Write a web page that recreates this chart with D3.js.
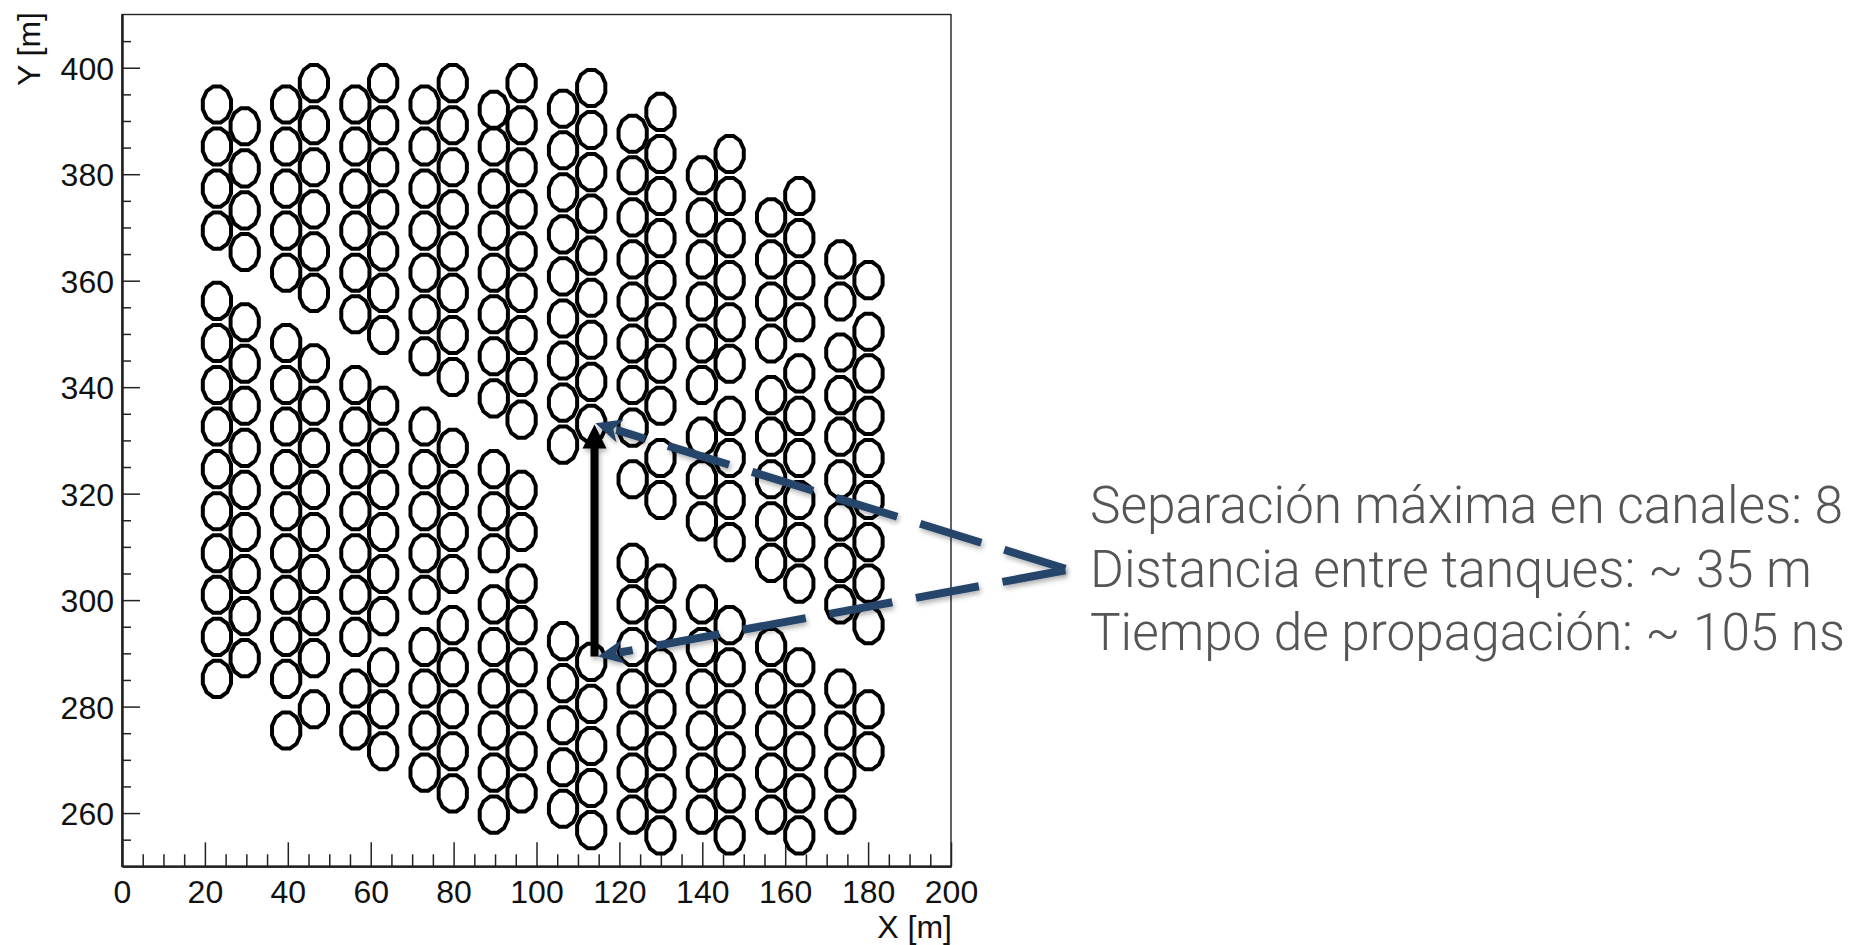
<!DOCTYPE html>
<html><head><meta charset="utf-8">
<script src="https://cdn.jsdelivr.net/npm/d3@7"></script>
<style>
html,body{margin:0;padding:0;background:#fff;overflow:hidden}
svg{display:block}
.tick text,.title{font-family:"Liberation Sans",Arial,sans-serif;font-size:32px;fill:#111}
.note{font-family:Roboto,sans-serif;font-weight:300;font-size:51px;fill:#555}
</style></head><body>
<script>
const colX=[22.9,29.6,39.6,46.3,56.3,63.0,73.0,79.8,89.7,96.4,106.4,113.2,123.2,129.9,139.9,146.6,156.6,163.4,173.3,180.1];
const colY=[
[393.1,385.2,377.3,369.4,356.2,348.3,340.4,332.6,324.6,316.7,308.8,301.0,293.1,285.2],
[389.0,381.1,373.2,365.4,352.2,344.4,336.5,328.6,320.7,312.8,304.9,297.0,289.1],
[393.1,385.2,377.3,369.4,361.5,348.3,340.4,332.6,324.6,316.7,308.8,301.0,293.1,285.2,275.5],
[397.1,389.2,381.3,373.4,365.5,357.7,344.5,336.5,328.6,320.7,312.8,304.9,297.0,289.1,279.5],
[393.1,385.2,377.3,369.4,361.5,353.7,340.4,332.6,324.6,316.7,308.8,301.0,293.1,283.4,275.5],
[397.1,389.2,381.3,373.4,365.5,357.7,349.8,336.5,328.6,320.7,312.8,304.9,297.0,287.4,279.5,271.6],
[393.1,385.2,377.3,369.4,361.5,353.7,345.8,332.6,324.6,316.7,308.8,301.0,291.2,283.4,275.5,267.6],
[397.1,389.2,381.3,373.4,365.5,357.7,349.8,341.9,328.6,320.7,312.8,304.9,295.3,287.4,279.5,271.6,263.7],
[392.1,385.2,377.3,369.4,361.5,353.7,345.8,337.9,324.6,316.7,308.8,299.2,291.2,283.4,275.5,267.6,259.7],
[397.1,389.2,381.3,373.4,365.5,357.7,349.8,341.9,333.9,320.7,312.8,303.1,295.3,287.4,279.5,271.6,263.7],
[392.3,384.5,376.6,368.7,360.8,352.9,345.0,337.1,329.2,292.3,284.4,276.5,268.6,260.8],
[396.2,388.3,380.4,372.6,364.7,356.8,348.9,341.0,333.1,288.4,280.5,272.6,264.7,256.8],
[387.6,379.8,371.9,364.0,356.1,348.2,340.4,332.4,322.7,307.0,299.2,291.2,283.4,275.5,267.6,259.7],
[391.7,383.8,375.9,368.0,360.1,352.2,344.4,336.5,326.7,318.8,303.1,295.3,287.4,279.5,271.6,263.7,255.8],
[379.8,371.9,364.0,356.1,348.2,340.4,330.7,322.7,314.8,299.2,291.2,283.4,275.5,267.6,259.7],
[383.8,375.9,368.0,360.1,352.2,344.4,334.6,326.7,318.8,310.9,295.3,287.4,279.5,271.6,263.7,255.8],
[371.9,364.0,356.1,348.2,338.5,330.7,322.7,314.8,307.0,291.2,283.4,275.5,267.6,259.7],
[375.9,368.0,360.1,352.2,342.6,334.6,326.7,318.8,310.9,303.1,287.4,279.5,271.6,263.7,255.8],
[364.0,356.1,346.5,338.5,330.7,322.7,314.8,307.0,299.2,283.4,275.5,267.6,259.7],
[360.1,350.4,342.6,334.6,326.7,318.8,310.9,303.1,295.3,279.5,271.6]
];
const xMajor=[0,20,40,60,80,100,120,140,160,180,200];
const yMajor=[260,280,300,320,340,360,380,400];
const xMinor=[5,10,15,25,30,35,45,50,55,65,70,75,85,90,95,105,110,115,125,130,135,145,150,155,165,170,175,185,190,195];
const yMinor=[255,265,270,275,285,290,295,305,310,315,325,330,335,345,350,355,365,370,375,385,390,395,405];
const xTitle="X [m]", yTitle="Y [m]";
const separation=[114,289.4,114,333.0];
const pointerA=[227.6,305.9,114.2,333.2];
const pointerB=[227.6,305.6,114.8,289.4];
const notes=["Separación máxima en canales: 8","Distancia entre tanques: ~ 35 m","Tiempo de propagación: ~ 105 ns"];

const W=1866,H=945;
const x=d3.scaleLinear().domain([0,200]).range([122,951]);
const y=d3.scaleLinear().domain([250,410]).range([866.3,14.5]);
const svg=d3.select("body").append("svg").attr("width",W).attr("height",H);

const defs=svg.append("defs");
const f=defs.append("filter").attr("id","sh").attr("x","-20%").attr("y","-20%").attr("width","140%").attr("height","140%");
f.append("feDropShadow").attr("dx",1.5).attr("dy",3).attr("stdDeviation",2.5).attr("flood-color","#000").attr("flood-opacity",.3);

svg.append("rect").attr("x",x(0)).attr("y",y(410)).attr("width",x(200)-x(0)).attr("height",y(250)-y(410))
  .attr("fill","none").attr("stroke","#222").attr("stroke-width",1.4);

function styleAxis(g){g.select(".domain").attr("stroke","#222").attr("stroke-width",2);g.selectAll(".tick line").attr("stroke","#222").attr("stroke-width",1.5);}
const gx=svg.append("g").attr("transform",`translate(0,${y(250)})`);
gx.append("g").call(d3.axisBottom(x).tickValues(xMinor).tickSize(-12).tickSizeOuter(0).tickFormat("")).call(styleAxis);
const gxm=gx.append("g").call(d3.axisBottom(x).tickValues(xMajor).tickSize(-24).tickSizeOuter(0).tickPadding(18).tickFormat(d3.format("d"))).call(styleAxis);
gxm.selectAll("text").attr("y",0).attr("dy",0).attr("transform","translate(0,36.7)").attr("text-anchor","middle");

const gy=svg.append("g").attr("transform",`translate(${x(0)},0)`);
gy.append("g").call(d3.axisLeft(y).tickValues(yMinor).tickSize(-9).tickSizeOuter(0).tickFormat("")).call(styleAxis);
const gym=gy.append("g").call(d3.axisLeft(y).tickValues(yMajor).tickSize(-18).tickSizeOuter(0).tickFormat(d3.format("d"))).call(styleAxis);
gym.selectAll("text").attr("x",-8).attr("dy",0).attr("y",11.5).attr("text-anchor","end");

svg.append("text").attr("class","title").attr("text-anchor","end").attr("x",952).attr("y",938).text(xTitle);
svg.append("text").attr("class","title").attr("text-anchor","end").attr("transform","translate(40,12) rotate(-90)").text(yTitle);

const sides=12, rx=14.6, ry=18.7;
const ring=d3.range(sides).map(i=>{const a=(i+.5)/sides*2*Math.PI;return [rx*Math.cos(a),ry*Math.sin(a)];});
const poly=d3.line().curve(d3.curveLinearClosed);
const pts=colX.flatMap((cx,i)=>colY[i].map(v=>({x:cx,y:v})));
svg.append("g").selectAll("path").data(pts).join("path")
  .attr("transform",d=>`translate(${x(d.x)},${y(d.y)})`)
  .attr("d",poly(ring)).attr("fill","none").attr("stroke","#000").attr("stroke-width",4).attr("stroke-linejoin","miter");

function arrow(parent,p,color,width,hl,hw,notch,dash){
  const x0=x(p[0]),y0=y(p[1]),x1=x(p[2]),y1=y(p[3]);
  const a=Math.atan2(y1-y0,x1-x0),c=Math.cos(a),s=Math.sin(a);
  const g=parent.append("g").attr("filter","url(#sh)");
  const l=g.append("line").attr("x1",x0).attr("y1",y0).attr("x2",x1-c*(hl-4)).attr("y2",y1-s*(hl-4))
    .attr("stroke",color).attr("stroke-width",width);
  if(dash) l.attr("stroke-dasharray",dash);
  g.append("path").attr("fill",color).attr("d",poly([
    [x1,y1],
    [x1-c*hl-s*hw,y1-s*hl+c*hw],
    [x1-c*hl*notch,y1-s*hl*notch],
    [x1-c*hl+s*hw,y1-s*hl-c*hw]
  ]));
}
arrow(svg,separation,"#000",8,24,12,1,null);
arrow(svg,pointerA,"#25456b",8,26,12,.72,"64 24");
arrow(svg,pointerB,"#25456b",8,26,12,.72,"64 24");

const nb=[523,587,650], nl=[753,722,755];
svg.selectAll("text.note").data(notes).join("text").attr("class","note")
  .attr("x",1090).attr("y",(d,i)=>nb[i]).attr("textLength",(d,i)=>nl[i]).attr("lengthAdjust","spacingAndGlyphs").text(d=>d);
</script>
</body></html>
